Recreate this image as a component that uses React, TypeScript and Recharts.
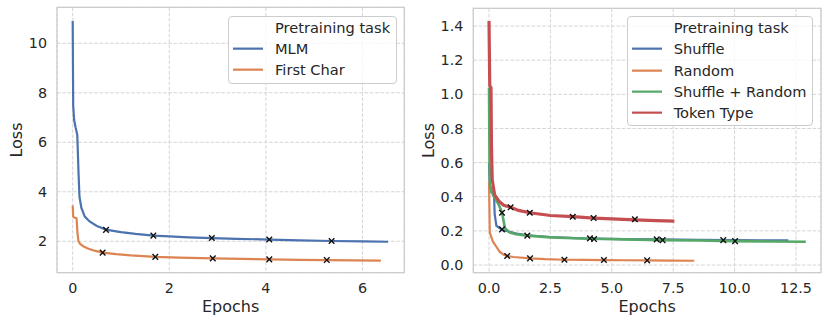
import React from 'react';
import { ComposedChart, Line, Scatter, XAxis, YAxis, CartesianGrid, ReferenceArea, Legend, Label } from 'recharts';

const FONT = "'DejaVu Sans', sans-serif";
const TEXT = '#262626';
const BLUE = '#4C72B0';
const ORANGE = '#DD8452';
const GREEN = '#55A868';
const RED = '#C44E52';

// ---- Left chart data ----
const mlmX = [0, 0.01, 0.03, 0.06, 0.095, 0.12, 0.14, 0.18, 0.25, 0.35, 0.5, 0.69, 0.9, 1.0, 1.3, 1.67, 2.0, 2.4, 2.88, 3.4, 4.07, 4.7, 5.36, 6.0, 6.53];
const mlmY = [10.9, 7.5, 6.9, 6.6, 6.3, 4.8, 3.8, 3.35, 3.0, 2.8, 2.62, 2.47, 2.4, 2.37, 2.3, 2.23, 2.2, 2.16, 2.13, 2.1, 2.07, 2.04, 2.01, 1.995, 1.98];
const fcX = [0, 0.01, 0.04, 0.08, 0.1, 0.12, 0.16, 0.22, 0.3, 0.45, 0.62, 0.9, 1.2, 1.71, 2.2, 2.9, 3.5, 4.07, 4.7, 5.26, 5.8, 6.38];
const fcY = [3.45, 3.0, 2.95, 2.93, 2.3, 2.0, 1.88, 1.8, 1.72, 1.62, 1.54, 1.48, 1.43, 1.37, 1.34, 1.31, 1.29, 1.27, 1.25, 1.24, 1.23, 1.22];
const mlmMarkX = [0.69, 1.67, 2.88, 4.07, 5.36];
const mlmMarkY = [2.46, 2.23, 2.13, 2.07, 2.01];
const fcMarkX = [0.62, 1.71, 2.9, 4.07, 5.26];
const fcMarkY = [1.54, 1.37, 1.31, 1.27, 1.24];
const leftXTicks = [0, 2, 4, 6];
const leftYTicks = [2, 4, 6, 8, 10];
const leftNames = ['MLM', 'First Char'];

// ---- Right chart data ----
const shufX = [0, 0.03, 0.05, 0.2, 0.23, 0.3, 0.54, 0.84, 1.2, 1.56, 2.5, 3.5, 4.2, 5.5, 7.0, 8.5, 10.0, 11.0, 12.19];
const shufY = [0.6, 0.45, 0.43, 0.43, 0.3, 0.23, 0.205, 0.195, 0.182, 0.174, 0.164, 0.158, 0.155, 0.152, 0.15, 0.148, 0.146, 0.145, 0.144];
const randX = [0, 0.02, 0.03, 0.16, 0.3, 0.43, 0.58, 0.74, 1.0, 1.66, 2.3, 3.07, 3.9, 4.68, 5.5, 6.44, 7.4, 8.36];
const randY = [0.49, 0.3, 0.19, 0.137, 0.107, 0.078, 0.062, 0.053, 0.047, 0.039, 0.034, 0.031, 0.03, 0.029, 0.028, 0.027, 0.026, 0.025];
const srX = [0, 0.02, 0.04, 0.1, 0.2, 0.37, 0.5, 0.54, 0.6, 0.65, 0.85, 1.1, 1.56, 2.5, 3.5, 4.2, 5.5, 7.0, 8.5, 10.0, 11.5, 12.9];
const srY = [1.04, 0.6, 0.47, 0.43, 0.4, 0.36, 0.32, 0.3, 0.254, 0.215, 0.19, 0.18, 0.172, 0.162, 0.157, 0.154, 0.15, 0.146, 0.144, 0.14, 0.138, 0.136];
const ttX = [0, 0.03, 0.08, 0.1, 0.13, 0.23, 0.43, 0.6, 0.88, 1.2, 1.66, 2.5, 3.41, 4.26, 5.0, 5.94, 6.8, 7.55];
const ttY = [1.43, 1.05, 1.04, 0.7, 0.5, 0.41, 0.37, 0.35, 0.338, 0.32, 0.306, 0.29, 0.283, 0.275, 0.27, 0.265, 0.26, 0.257];
const ttMarkX = [0.88, 1.66, 3.41, 4.26, 5.94];
const ttMarkY = [0.338, 0.306, 0.283, 0.275, 0.268];
const randMarkX = [0.74, 1.67, 3.07, 4.68, 6.44];
const randMarkY = [0.053, 0.039, 0.031, 0.029, 0.027];
const srMarkX = [0.53, 1.56, 4.11, 6.83, 10.02];
const srMarkY = [0.306, 0.172, 0.156, 0.15, 0.14];
const shufMarkX = [0.53, 4.28, 7.07, 9.54];
const shufMarkY = [0.209, 0.152, 0.146, 0.146];
const rightXTicks = [0, 2.5, 5, 7.5, 10, 12.5];
const rightYTicks = [0, 0.2, 0.4, 0.6, 0.8, 1.0, 1.2, 1.4];
const rightNames = ['Shuffle', 'Random', 'Shuffle + Random', 'Token Type'];

const zip = (xs: number[], ys: number[]) => xs.map((x, i) => ({ x, y: ys[i] }));

const XMark = (props: any) => {
  const { cx, cy } = props;
  const r = 2.8;
  return (
    <path
      d={`M${cx - r},${cy - r}L${cx + r},${cy + r}M${cx - r},${cy + r}L${cx + r},${cy - r}`}
      stroke="#111"
      strokeWidth={1.4}
      fill="none"
    />
  );
};

const LegendBox = ({ names, colors, width }: { names: string[]; colors: string[]; width: number }) => (
  <div
    style={{
      boxSizing: 'border-box',
      width,
      border: '1px solid #cccccc',
      borderRadius: 4,
      background: 'rgba(255,255,255,0.8)',
      paddingBottom: 2,
      fontFamily: FONT,
      fontSize: 14.6,
      color: TEXT,
    }}
  >
    <div style={{ height: 21.3, lineHeight: '21.3px', paddingLeft: 46, whiteSpace: 'nowrap' }}>Pretraining task</div>
    {names.map((n, i) => (
      <div key={n} style={{ display: 'flex', alignItems: 'center', height: 21.3, whiteSpace: 'nowrap' }}>
        <svg width={46} height={21.3} style={{ display: 'block', flex: '0 0 auto' }}>
          <line x1={4} x2={34} y1={10.65} y2={10.65} stroke={colors[i]} strokeWidth={2.2} />
        </svg>
        <span style={{ lineHeight: '21.3px' }}>{n}</span>
      </div>
    ))}
  </div>
);

const tickStyle = { fontFamily: FONT, fontSize: 14.3, fill: TEXT };

const xLabel = (props: any) => {
  const vb = props.viewBox;
  return (
    <text x={vb.x + vb.width / 2} y={vb.y + 39.6} textAnchor="middle" fontFamily={FONT} fontSize={16} fill={TEXT}>
      Epochs
    </text>
  );
};

const yLabel = (bx: number) => (props: any) => {
  const vb = props.viewBox;
  const cy = vb.y + vb.height / 2;
  return (
    <text x={bx} y={cy} transform={`rotate(-90, ${bx}, ${cy})`} textAnchor="middle" fontFamily={FONT} fontSize={16} fill={TEXT}>
      Loss
    </text>
  );
};

const LeftChart = () => {
  const xd: [number, number] = [-0.325, 6.865];
  const yd: [number, number] = [0.73, 11.455];
  return (
    <ComposedChart width={415} height={325} margin={{ top: 7.3, right: 10.7, left: 0, bottom: 0 }}>
      <CartesianGrid stroke="#d5d5d5" strokeDasharray="3.7 1.6" strokeWidth={1} />
      <XAxis
        type="number"
        dataKey="x"
        domain={xd}
        ticks={leftXTicks}
        allowDataOverflow
        axisLine={false}
        tickLine={false}
        tickSize={0}
        tickMargin={10.5}
        height={52.3}
        tick={tickStyle}
      >
        <Label content={xLabel} />
      </XAxis>
      <YAxis
        type="number"
        domain={yd}
        ticks={leftYTicks}
        allowDataOverflow
        axisLine={false}
        tickLine={false}
        tickSize={0}
        tickMargin={10}
        width={57}
        tick={tickStyle}
      >
        <Label content={yLabel(21.5)} />
      </YAxis>
      <ReferenceArea x1={xd[0]} x2={xd[1]} y1={yd[0]} y2={yd[1]} fill="none" stroke="#cccccc" strokeWidth={1.25} />
      <Line data={zip(mlmX, mlmY)} dataKey="y" stroke={BLUE} strokeWidth={2.2} dot={false} isAnimationActive={false} />
      <Line data={zip(fcX, fcY)} dataKey="y" stroke={ORANGE} strokeWidth={2.2} dot={false} isAnimationActive={false} />
      <Scatter data={zip(mlmMarkX, mlmMarkY)} dataKey="y" shape={XMark} isAnimationActive={false} />
      <Scatter data={zip(fcMarkX, fcMarkY)} dataKey="y" shape={XMark} isAnimationActive={false} />
      <Legend
        layout="vertical"
        align="center"
        verticalAlign="middle"
        wrapperStyle={{ left: 228, top: 15.7, width: 168.7 }}
        content={() => <LegendBox names={leftNames} colors={[BLUE, ORANGE]} width={168.7} />}
      />
    </ComposedChart>
  );
};

const RightChart = () => {
  const xd: [number, number] = [-0.64, 13.52];
  const yd: [number, number] = [-0.045, 1.504];
  return (
    <ComposedChart width={415} height={325} margin={{ top: 8.3, right: 9, left: 0, bottom: 0 }}>
      <CartesianGrid stroke="#d5d5d5" strokeDasharray="3.7 1.6" strokeWidth={1} />
      <XAxis
        type="number"
        dataKey="x"
        domain={xd}
        ticks={rightXTicks}
        tickFormatter={(v: number) => v.toFixed(1)}
        allowDataOverflow
        axisLine={false}
        tickLine={false}
        tickSize={0}
        tickMargin={10.5}
        height={52.3}
        tick={tickStyle}
      >
        <Label content={xLabel} />
      </XAxis>
      <YAxis
        type="number"
        domain={yd}
        ticks={rightYTicks}
        tickFormatter={(v: number) => v.toFixed(1)}
        allowDataOverflow
        axisLine={false}
        tickLine={false}
        tickSize={0}
        tickMargin={10}
        width={58.3}
        tick={tickStyle}
      >
        <Label content={yLabel(19.3)} />
      </YAxis>
      <ReferenceArea x1={xd[0]} x2={xd[1]} y1={yd[0]} y2={yd[1]} fill="none" stroke="#cccccc" strokeWidth={1.25} />
      <Line data={zip(shufX, shufY)} dataKey="y" stroke={BLUE} strokeWidth={2.2} dot={false} isAnimationActive={false} />
      <Line data={zip(randX, randY)} dataKey="y" stroke={ORANGE} strokeWidth={2.2} dot={false} isAnimationActive={false} />
      <Line data={zip(srX, srY)} dataKey="y" stroke={GREEN} strokeWidth={2.6} dot={false} isAnimationActive={false} />
      <Line data={zip(ttX, ttY)} dataKey="y" stroke={RED} strokeWidth={3.2} dot={false} isAnimationActive={false} />
      <Scatter data={zip(shufMarkX, shufMarkY)} dataKey="y" shape={XMark} isAnimationActive={false} />
      <Scatter data={zip(randMarkX, randMarkY)} dataKey="y" shape={XMark} isAnimationActive={false} />
      <Scatter data={zip(srMarkX, srMarkY)} dataKey="y" shape={XMark} isAnimationActive={false} />
      <Scatter data={zip(ttMarkX, ttMarkY)} dataKey="y" shape={XMark} isAnimationActive={false} />
      <Legend
        layout="vertical"
        align="center"
        verticalAlign="middle"
        wrapperStyle={{ left: 211.7, top: 16, width: 186.6 }}
        content={() => <LegendBox names={rightNames} colors={[BLUE, ORANGE, GREEN, RED]} width={186.6} />}
      />
    </ComposedChart>
  );
};

export default function App() {
  return (
    <div style={{ position: 'absolute', left: 0, top: 0, width: 830, height: 325, background: '#fff' }}>
      <div style={{ position: 'absolute', left: 0, top: 0 }}>
        <LeftChart />
      </div>
      <div style={{ position: 'absolute', left: 415, top: 0 }}>
        <RightChart />
      </div>
    </div>
  );
}
